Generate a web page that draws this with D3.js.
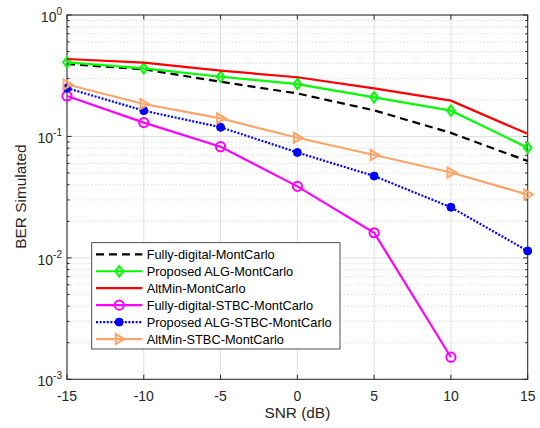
<!DOCTYPE html>
<html>
<head>
<meta charset="utf-8">
<script src="https://cdn.jsdelivr.net/npm/d3@7/dist/d3.min.js"></script>
<style>
  html, body { margin: 0; padding: 0; background: #fff; }
  svg { display: block; }
  text { font-family: "Liberation Sans", Arial, sans-serif; fill: #262626; }
</style>
</head>
<body>
<svg id="chart" width="540" height="428"></svg>
<script>
// SNR sweep (dB)
const snr = [-15, -10, -5, 0, 5, 10, 15];

// Simulated BER for each scheme
const fullyDigital      = [0.395, 0.357, 0.282, 0.226, 0.164, 0.107, 0.0627];
const proposedAlg       = [0.408, 0.364, 0.310, 0.270, 0.210, 0.163, 0.0808];
const altMin            = [0.434, 0.405, 0.348, 0.307, 0.249, 0.197, 0.105];
const fullyDigitalStbc  = [0.215, 0.130, 0.0823, 0.0388, 0.0161, 0.00152];
const proposedAlgStbc   = [0.250, 0.163, 0.119, 0.0738, 0.0472, 0.0261, 0.0114];
const altMinStbc        = [0.268, 0.185, 0.141, 0.0975, 0.0703, 0.0505, 0.0332];

const seriesNames = [
  "Fully-digital-MontCarlo",
  "Proposed ALG-MontCarlo",
  "AltMin-MontCarlo",
  "Fully-digital-STBC-MontCarlo",
  "Proposed ALG-STBC-MontCarlo",
  "AltMin-STBC-MontCarlo"
];

const xTicks = [-15, -10, -5, 0, 5, 10, 15];
const yTickExps = [0, -1, -2, -3];

const series = [
  { name: seriesNames[0], values: fullyDigital,     color: "#000000", dash: "8,5",  marker: "none" },
  { name: seriesNames[1], values: proposedAlg,      color: "#00ff00", dash: null,   marker: "diamond" },
  { name: seriesNames[2], values: altMin,           color: "#ff0000", dash: null,   marker: "none" },
  { name: seriesNames[3], values: fullyDigitalStbc, color: "#ff00ff", dash: null,   marker: "circle" },
  { name: seriesNames[4], values: proposedAlgStbc,  color: "#0000ff", dash: "2,1.6", marker: "dot" },
  { name: seriesNames[5], values: altMinStbc,       color: "#ffa468", dash: null,   marker: "triangle" }
];

const svg = d3.select("#chart");
const L = 67, R = 527.7, T = 15, B = 379.3;
const x = d3.scaleLinear().domain([-15, 15]).range([L, R]);
const y = d3.scaleLog().domain([1e-3, 1]).range([B, T]);
const axisColor = "#262626";

// grid
const grid = svg.append("g");
xTicks.forEach(t => {
  grid.append("line").attr("x1", x(t)).attr("x2", x(t)).attr("y1", T).attr("y2", B)
    .attr("stroke", "#dfdfdf").attr("stroke-width", 1);
});
const minor = [];
for (let e = -3; e < 0; e++) for (let k = 2; k <= 9; k++) minor.push(k * Math.pow(10, e));
minor.forEach(v => {
  grid.append("line").attr("x1", L).attr("x2", R).attr("y1", y(v)).attr("y2", y(v))
    .attr("stroke", "#d6d6d6").attr("stroke-width", 0.8).attr("stroke-dasharray", "1.5,2");
});
yTickExps.forEach(e => {
  grid.append("line").attr("x1", L).attr("x2", R).attr("y1", y(Math.pow(10, e))).attr("y2", y(Math.pow(10, e)))
    .attr("stroke", "#dfdfdf").attr("stroke-width", 1);
});

// axes box and ticks
const axes = svg.append("g").attr("stroke", axisColor).attr("stroke-width", 1);
axes.append("rect").attr("x", L).attr("y", T).attr("width", R - L).attr("height", B - T)
  .attr("fill", "none");
xTicks.forEach(t => {
  axes.append("line").attr("x1", x(t)).attr("x2", x(t)).attr("y1", B).attr("y2", B - 4.6);
  axes.append("line").attr("x1", x(t)).attr("x2", x(t)).attr("y1", T).attr("y2", T + 4.6);
});
yTickExps.forEach(e => {
  const yy = y(Math.pow(10, e));
  axes.append("line").attr("x1", L).attr("x2", L + 4.6).attr("y1", yy).attr("y2", yy);
  axes.append("line").attr("x1", R).attr("x2", R - 4.6).attr("y1", yy).attr("y2", yy);
});
minor.forEach(v => {
  axes.append("line").attr("x1", L).attr("x2", L + 2.6).attr("y1", y(v)).attr("y2", y(v));
  axes.append("line").attr("x1", R).attr("x2", R - 2.6).attr("y1", y(v)).attr("y2", y(v));
});

// tick labels
xTicks.forEach(t => {
  svg.append("text").attr("x", x(t)).attr("y", B + 21.8).attr("text-anchor", "middle")
    .attr("font-size", 14).text(t);
});
yTickExps.forEach(e => {
  const yy = y(Math.pow(10, e));
  const tx = svg.append("text").attr("x", 62).attr("y", yy + 6.8).attr("text-anchor", "end")
    .attr("font-size", 14);
  tx.append("tspan").text("10");
  tx.append("tspan").attr("dy", -6.8).attr("font-size", 10).text(String(e));
});

// axis titles
svg.append("text").attr("x", (L + R) / 2).attr("y", 417.5).attr("text-anchor", "middle")
  .attr("font-size", 15.4).text("SNR (dB)");
svg.append("text").attr("transform", "translate(25.5,196.5) rotate(-90)")
  .attr("text-anchor", "middle").attr("font-size", 15.4).text("BER Simulated");

// markers
function drawMarker(g, m, cx, cy, color) {
  if (m === "diamond") {
    g.append("path").attr("d", `M${cx},${cy - 5.2}L${cx + 3.8},${cy}L${cx},${cy + 5.2}L${cx - 3.8},${cy}Z`)
      .attr("fill", "none").attr("stroke", color).attr("stroke-width", 2);
  } else if (m === "circle") {
    g.append("circle").attr("cx", cx).attr("cy", cy).attr("r", 4.6)
      .attr("fill", "none").attr("stroke", color).attr("stroke-width", 2);
  } else if (m === "dot") {
    g.append("circle").attr("cx", cx).attr("cy", cy).attr("r", 4)
      .attr("fill", color).attr("stroke", color).attr("stroke-width", 1);
  } else if (m === "triangle") {
    g.append("path").attr("d", `M${cx + 5.2},${cy}L${cx - 3.4},${cy - 5}L${cx - 3.4},${cy + 5}Z`)
      .attr("fill", "none").attr("stroke", color).attr("stroke-width", 2);
  }
}

// series lines
const line = d3.line().x(d => x(d[0])).y(d => y(d[1]));
const plot = svg.append("g");
series.forEach(s => {
  const pts = s.values.map((v, i) => [snr[i], v]);
  plot.append("path").datum(pts).attr("d", line).attr("fill", "none")
    .attr("stroke", s.color).attr("stroke-width", 2.2)
    .attr("stroke-dasharray", s.dash);
  pts.forEach(p => drawMarker(plot, s.marker, x(p[0]), y(p[1]), s.color));
});

// legend
const lg = svg.append("g");
lg.append("rect").attr("x", 91.7).attr("y", 242.7).attr("width", 248.3).attr("height", 106.3)
  .attr("fill", "#fff").attr("stroke", axisColor).attr("stroke-width", 0.8);
series.forEach((s, i) => {
  const yy = 254.3 + i * 16.95;
  lg.append("line").attr("x1", 96).attr("x2", 142.3).attr("y1", yy).attr("y2", yy)
    .attr("stroke", s.color).attr("stroke-width", 2.2).attr("stroke-dasharray", s.dash);
  drawMarker(lg, s.marker, 119.2, yy, s.color);
  lg.append("text").attr("x", 146.7).attr("y", yy + 4.5).attr("font-size", 12.8)
    .style("fill", "#000").text(s.name);
});
</script>
</body>
</html>
